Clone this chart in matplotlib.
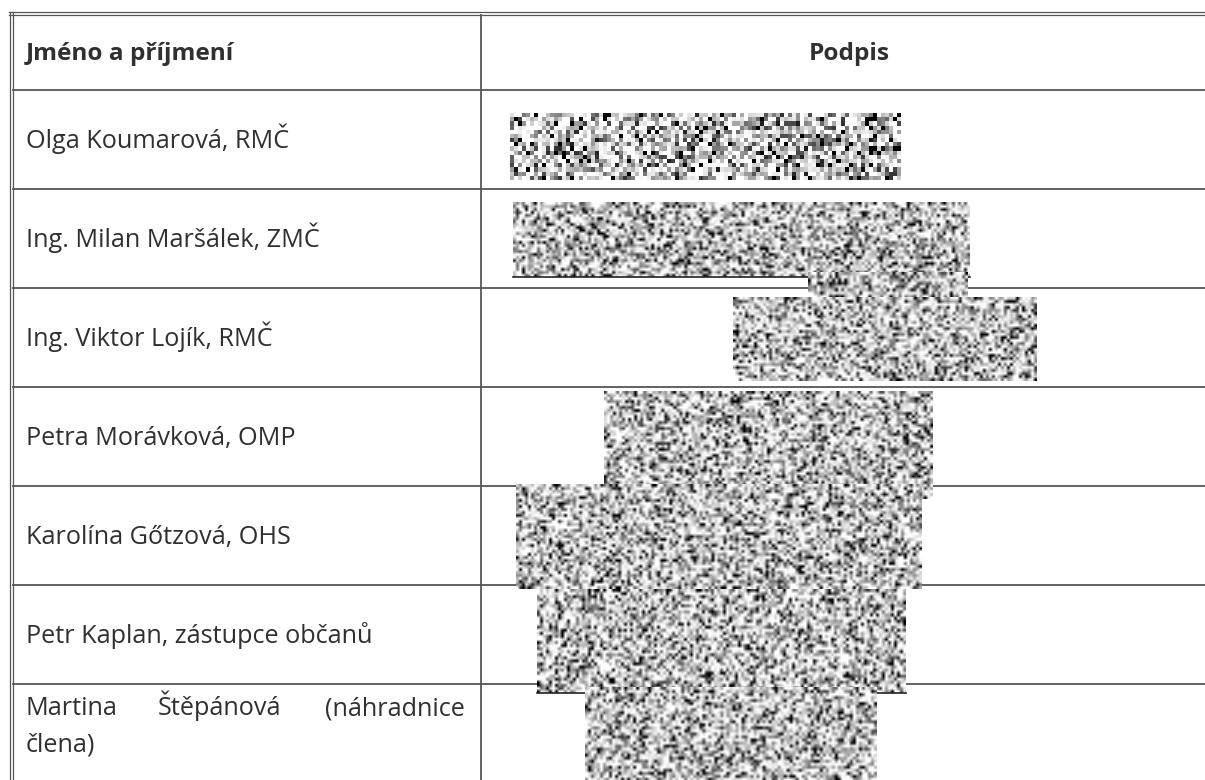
import numpy as np
import matplotlib
matplotlib.use("Agg")
import matplotlib.pyplot as plt

# table content
header_name = "Jméno a příjmení"
header_sign = "Podpis"
names = [
    "Olga Koumarová, RMČ",
    "Ing. Milan Maršálek, ZMČ",
    "Ing. Viktor Lojík, RMČ",
    "Petra Morávková, OMP",
    "Karolína Gőtzová, OHS",
    "Petr Kaplan, zástupce občanů",
]
last_words = ["Martina", "Štěpánová", "(náhradnice"]
last_line2 = "člena)"

# row borders (px from top) and the column divider
row_lines = [90, 189, 288, 387, 486, 585, 684]
col_x = 481

# redacted signature patches: x0, x1, y0, y1, cell size, smooth, dark bottom edge
patches = [
    (510, 901, 113, 180, 4, False, False),
    (513, 970, 202, 277, 3, True, True),
    (808, 968, 272, 298, 3, True, False),
    (733, 1037, 297, 381, 3, True, False),
    (604, 933, 391, 499, 3, True, False),
    (516, 922, 484, 589, 3, True, False),
    (537, 906, 589, 693, 3, True, True),
    (585, 877, 687, 790, 3, True, False),
]

W, H = 1205, 780
fig = plt.figure(figsize=(W / 100, H / 100), dpi=100)
ax = fig.add_axes([0, 0, 1, 1])
ax.axis("off")

line_c = "#555555"
text_c = "#303030"

# double frame on top and left
for y in (12, 15):
    ax.plot([9, W], [y, y], color=line_c, lw=0.9)
for x in (9.5, 13):
    ax.plot([x, x], [12, H], color=line_c, lw=0.9)
for y in row_lines:
    ax.plot([13, W], [y, y], color=line_c, lw=1.3)
ax.plot([col_x, col_x], [15, H], color=line_c, lw=1.3)

# noise texture for the redacted signatures (fixed seed, decoration only)
rng = np.random.default_rng(7)
for i, (x0, x1, y0, y1, cell, smooth, edge) in enumerate(patches):
    nx = max(2, int((x1 - x0) / cell))
    ny = max(2, int((y1 - y0) / cell))
    v = rng.random((ny, nx))
    img = np.clip(1.4 * v - 0.1, 0, 1) ** 0.5
    z = 3 + i * 0.1
    ax.imshow(img, cmap="gray", vmin=0, vmax=1, extent=(x0, x1, y1, y0),
              interpolation="bilinear" if smooth else "nearest", zorder=z,
              aspect="auto")
    if edge:
        ax.plot([x0, x1], [y1, y1], color="#222222", lw=1.2, zorder=z + 0.05)

ax.set_xlim(0, W)
ax.set_ylim(H, 0)

fam = ["Open Sans", "DejaVu Sans"]
fs = 18.2
fs_b = 17.6

ax.text(26, 60, header_name, fontsize=fs_b, fontweight="bold", family=fam,
        color=text_c, va="baseline")
ax.text(849, 60, header_sign, fontsize=fs_b, fontweight="bold", family=fam,
        color=text_c, va="baseline", ha="center")
for i, n in enumerate(names):
    ax.text(26, row_lines[i] + 58, n, fontsize=fs, family=fam, color=text_c,
            va="baseline")

ax.text(26, 715, last_words[0], fontsize=fs, family=fam, color=text_c, va="baseline")
ax.text(158, 715, last_words[1], fontsize=fs, family=fam, color=text_c, va="baseline")
ax.text(465, 715, last_words[2], fontsize=fs, family=fam, color=text_c,
        va="baseline", ha="right")
ax.text(26, 752, last_line2, fontsize=fs, family=fam, color=text_c, va="baseline")

fig.savefig("out.png", dpi=100, facecolor="white")
